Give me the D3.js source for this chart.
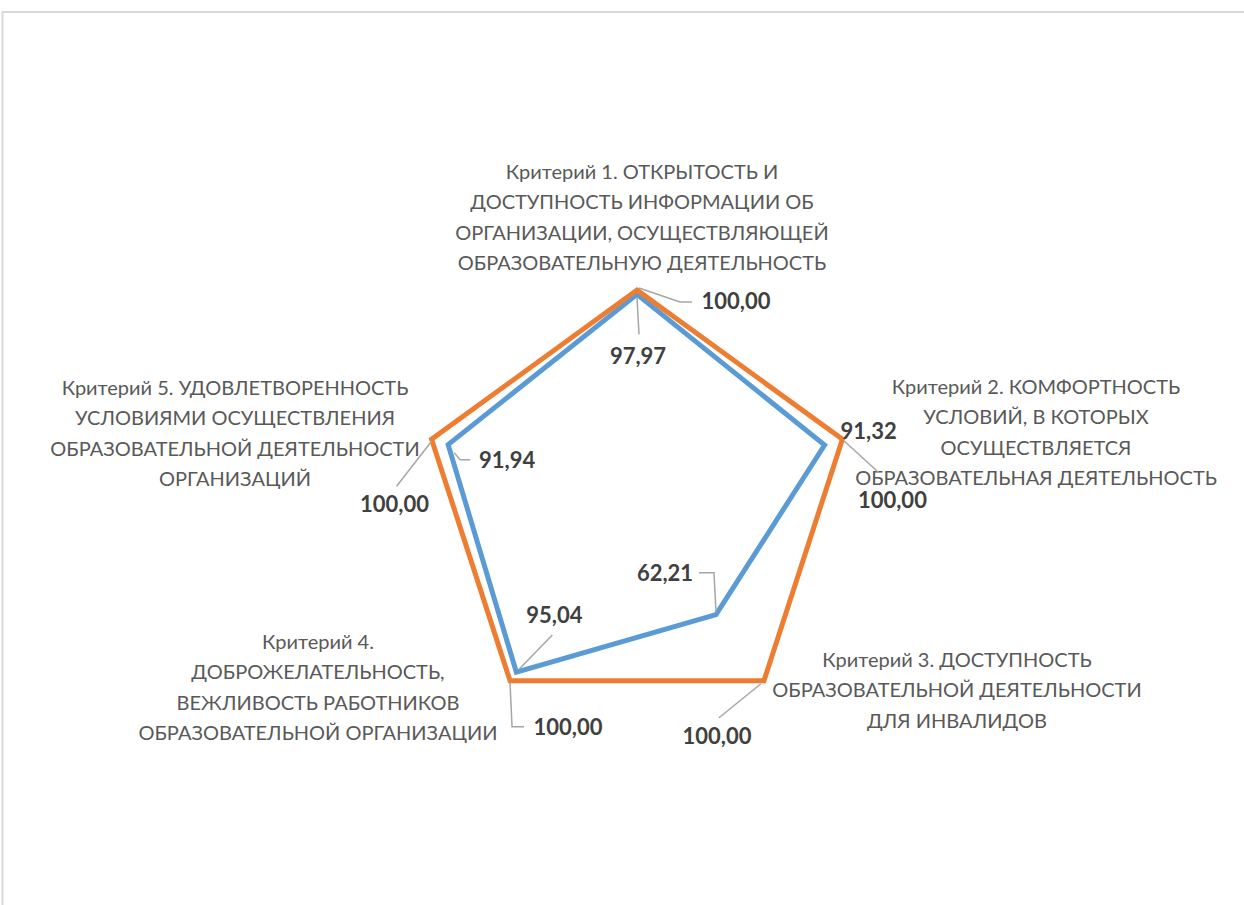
<!DOCTYPE html>
<html>
<head>
<meta charset="utf-8">
<script src="https://cdn.jsdelivr.net/npm/d3@7"></script>
<style>
  body { margin: 0; background: #fff; }
  text { font-family: Lato, "Open Sans", sans-serif; }
</style>
</head>
<body>
<script>
// categories (one label per line)
var categories = [
  ["Критерий 1. ОТКРЫТОСТЬ И", "ДОСТУПНОСТЬ ИНФОРМАЦИИ ОБ", "ОРГАНИЗАЦИИ, ОСУЩЕСТВЛЯЮЩЕЙ", "ОБРАЗОВАТЕЛЬНУЮ ДЕЯТЕЛЬНОСТЬ"],
  ["Критерий 2. КОМФОРТНОСТЬ", "УСЛОВИЙ, В КОТОРЫХ", "ОСУЩЕСТВЛЯЕТСЯ", "ОБРАЗОВАТЕЛЬНАЯ ДЕЯТЕЛЬНОСТЬ"],
  ["Критерий 3. ДОСТУПНОСТЬ", "ОБРАЗОВАТЕЛЬНОЙ ДЕЯТЕЛЬНОСТИ", "ДЛЯ ИНВАЛИДОВ"],
  ["Критерий 4.", "ДОБРОЖЕЛАТЕЛЬНОСТЬ,", "ВЕЖЛИВОСТЬ РАБОТНИКОВ", "ОБРАЗОВАТЕЛЬНОЙ ОРГАНИЗАЦИИ"],
  ["Критерий 5. УДОВЛЕТВОРЕННОСТЬ", "УСЛОВИЯМИ ОСУЩЕСТВЛЕНИЯ", "ОБРАЗОВАТЕЛЬНОЙ ДЕЯТЕЛЬНОСТИ", "ОРГАНИЗАЦИЙ"]
];
var blueValues = [97.97, 91.32, 62.21, 95.04, 91.94];
var orangeValues = [100, 100, 100, 100, 100];

var W = 1244, H = 905;
var cx = 637, cy = 506, R = 216;

var svg = d3.select("body").append("svg").attr("width", W).attr("height", H);

// chart frame
svg.append("path")
  .attr("d", "M2.5," + H + "V12H" + W)
  .attr("fill", "none")
  .attr("stroke", "#d9d9d9")
  .attr("stroke-width", 2);

var r = d3.scaleLinear().domain([0, 100]).range([0, R]);
var angle = d3.scalePoint().domain(d3.range(5)).range([0, 2 * Math.PI * 4 / 5]);

function pt(i, v) {
  var a = angle(i);
  return [cx + r(v) * Math.sin(a), cy - r(v) * Math.cos(a)];
}

var line = d3.lineRadial()
  .angle(function(d, i) { return angle(i); })
  .radius(function(d) { return r(d); })
  .curve(d3.curveLinearClosed);

var g = svg.append("g").attr("transform", "translate(" + cx + "," + cy + ")");

[[blueValues, "#5b9bd5"], [orangeValues, "#ed7d31"]].forEach(function(s) {
  g.append("path")
    .attr("d", line(s[0]))
    .attr("fill", "none")
    .attr("stroke", s[1])
    .attr("stroke-width", 5)
    .attr("stroke-linejoin", "miter");
});

// category labels: center x, first line y
var catPos = [[642, 179], [1036, 394], [957, 667], [318, 649], [235, 395]];
categories.forEach(function(lines, i) {
  var t = svg.append("text")
    .attr("text-anchor", "middle")
    .attr("fill", "#595959")
    .style("font-size", "20px");
  lines.forEach(function(l, j) {
    t.append("tspan").attr("x", catPos[i][0]).attr("y", catPos[i][1] + j * 30.3).text(l);
  });
});

// data labels: text offset from point and leader polyline (offsets from point)
var fmt = function(v) { return v.toFixed(2).replace(".", ","); };
var blueLab = [
  { dx: 1, dy: 70, lead: [[0, 3], [2, 40]] },
  { dx: 44, dy: -6, lead: null },
  { dx: -51, dy: -34, lead: [[-17, -42], [-2, -42], [0, -3]] },
  { dx: 38, dy: -49, lead: [[3, -3], [36, -37]] },
  { dx: 59, dy: 23, lead: [[6, 8], [12, 15], [22, 15]] }
];
var orangeLab = [
  { dx: 99, dy: 19, lead: [[2, -2], [43, 12], [55, 12]] },
  { dx: 50, dy: 69, lead: [[2, 2], [36, 33]] },
  { dx: -47, dy: 63, lead: [[-3, 3], [-45, 37]] },
  { dx: 58, dy: 54, lead: [[0, 2], [2, 46], [14, 46]] },
  { dx: -37, dy: 73, lead: [[0, 2], [-35, 47]] }
];

function drawLabels(vals, labs) {
  vals.forEach(function(v, i) {
    var p = pt(i, v), L = labs[i];
    if (L.lead) {
      svg.append("polyline")
        .attr("points", L.lead.map(function(q) { return (p[0] + q[0]) + "," + (p[1] + q[1]); }).join(" "))
        .attr("fill", "none")
        .attr("stroke", "#a6a6a6")
        .attr("stroke-width", 1.5);
    }
    svg.append("text")
      .attr("x", p[0] + L.dx)
      .attr("y", p[1] + L.dy)
      .attr("text-anchor", "middle")
      .attr("fill", "#404040")
      .style("font-size", "22px")
      .style("font-weight", "bold")
      .text(fmt(v));
  });
}
drawLabels(blueValues, blueLab);
drawLabels(orangeValues, orangeLab);
</script>
</body>
</html>
